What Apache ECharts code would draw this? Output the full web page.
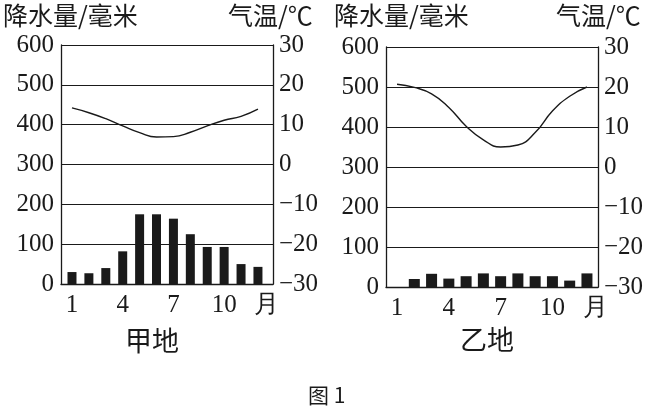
<!DOCTYPE html>
<html>
<head>
<meta charset="utf-8">
<script src="https://cdn.jsdelivr.net/npm/echarts@6/dist/echarts.min.js"></script>
<style>
html,body{margin:0;padding:0;background:#fff;}
#c{width:658px;height:411px;}
</style>
</head>
<body>
<div id="c"></div>
<script>
// ---- data ----
const months = [1, 2, 3, 4, 5, 6, 7, 8, 9, 10, 11, 12];
const jiaPrecip = [30, 27, 40, 82, 175, 175, 164, 125, 93, 93, 50, 43];
const jiaTemp = [14.2, 13.0, 11.5, 9.7, 8.0, 6.9, 7.0, 8.1, 9.7, 11.1, 12.1, 13.9];
const yiPrecip = [null, 20, 33, 21, 27, 34, 27, 34, 27, 27, 16, 34];
const yiTemp = [20.7, 19.9, 18.3, 14.9, 10.2, 6.8, 5.0, 5.5, 8.6, 14.0, 17.7, 20.0];
const xTickValues = [1, 4, 7, 10, 12.5];
const xTickLabels = ['1', '4', '7', '10', '月'];
const precipTicks = [0, 100, 200, 300, 400, 500, 600];
const tempTicks = [-30, -20, -10, 0, 10, 20, 30];
const precipName = '降水量/毫米';
const tempName = '气温/℃';
const placeNames = ['甲地', '乙地'];
const figureTitle = '图 1';

const serif = 'Liberation Serif';
const cjk = 'Noto Sans CJK SC';
const ink = '#1a1a1a';

const pairs = (vals) => months.map((m, i) => [m, vals[i]]);

function xAxisFor(gi, min, max) {
  return {
    type: 'value', gridIndex: gi, min: min, max: max,
    axisLine: {show: true, onZero: false, lineStyle: {color: ink, width: 1.3}},
    axisTick: {show: false},
    splitLine: {show: false},
    axisLabel: {
      customValues: xTickValues,
      margin: 9,
      color: ink,
      fontFamily: serif,
      fontSize: 25,
      formatter: function (v) {
        const i = xTickValues.indexOf(v);
        return i >= 0 ? xTickLabels[i] : '';
      }
    }
  };
}

function leftY(gi) {
  return {
    type: 'value', gridIndex: gi, min: precipTicks[0], max: precipTicks[precipTicks.length - 1], interval: 100,
    axisLine: {show: true, lineStyle: {color: ink, width: 1.3}},
    axisTick: {show: false},
    splitLine: {show: true, lineStyle: {color: ink, width: 1.2}},
    axisLabel: {color: ink, fontFamily: serif, fontSize: 25, margin: 7}
  };
}

function rightY(gi) {
  return {
    type: 'value', gridIndex: gi, position: 'right',
    min: tempTicks[0], max: tempTicks[tempTicks.length - 1], interval: 10,
    axisLine: {show: true, lineStyle: {color: ink, width: 1.3}},
    axisTick: {show: false},
    splitLine: {show: false},
    axisLabel: {
      color: ink, fontFamily: serif, fontSize: 25, margin: 6,
      formatter: v => (v < 0 ? '\u2212' + Math.abs(v) : String(v))
    }
  };
}

const titleStyle = (size) => ({fontFamily: cjk, fontSize: size, lineHeight: size, fontWeight: 'normal', color: ink});

const chart = echarts.init(document.getElementById('c'), null, {renderer: 'canvas'});
chart.setOption({
  backgroundColor: '#fff',
  animation: false,
  title: [
    {text: precipName, left: 3, top: 3, padding: 0, textStyle: titleStyle(25)},
    {text: tempName, left: 228, top: 3, padding: 0, textStyle: titleStyle(25)},
    {text: precipName, left: 334, top: 3, padding: 0, textStyle: titleStyle(25)},
    {text: tempName, left: 556, top: 3, padding: 0, textStyle: titleStyle(25)},
    {text: placeNames[0], left: 125, top: 327, padding: 0, textStyle: titleStyle(27)},
    {text: placeNames[1], left: 460, top: 326, padding: 0, textStyle: titleStyle(27)},
    {text: figureTitle, left: 308, top: 385, padding: 0, textStyle: titleStyle(21)}
  ],
  grid: [
    {left: 61, top: 45, width: 212, height: 239},
    {left: 386, top: 47, width: 212, height: 240}
  ],
  xAxis: [xAxisFor(0, 0.35, 12.89), xAxisFor(1, 0.36, 12.64)],
  yAxis: [leftY(0), rightY(0), leftY(1), rightY(1)],
  series: [
    {type: 'bar', xAxisIndex: 0, yAxisIndex: 0, data: pairs(jiaPrecip), barWidth: 9,
     itemStyle: {color: ink}},
    {type: 'line', xAxisIndex: 0, yAxisIndex: 1, data: pairs(jiaTemp), smooth: 0.5, symbol: 'none',
     lineStyle: {color: ink, width: 1.4}},
    {type: 'bar', xAxisIndex: 1, yAxisIndex: 2, data: pairs(yiPrecip), barWidth: 11,
     itemStyle: {color: ink}},
    {type: 'line', xAxisIndex: 1, yAxisIndex: 3, data: pairs(yiTemp), smooth: 0.5, symbol: 'none',
     lineStyle: {color: ink, width: 1.4}}
  ]
});
</script>
</body>
</html>
